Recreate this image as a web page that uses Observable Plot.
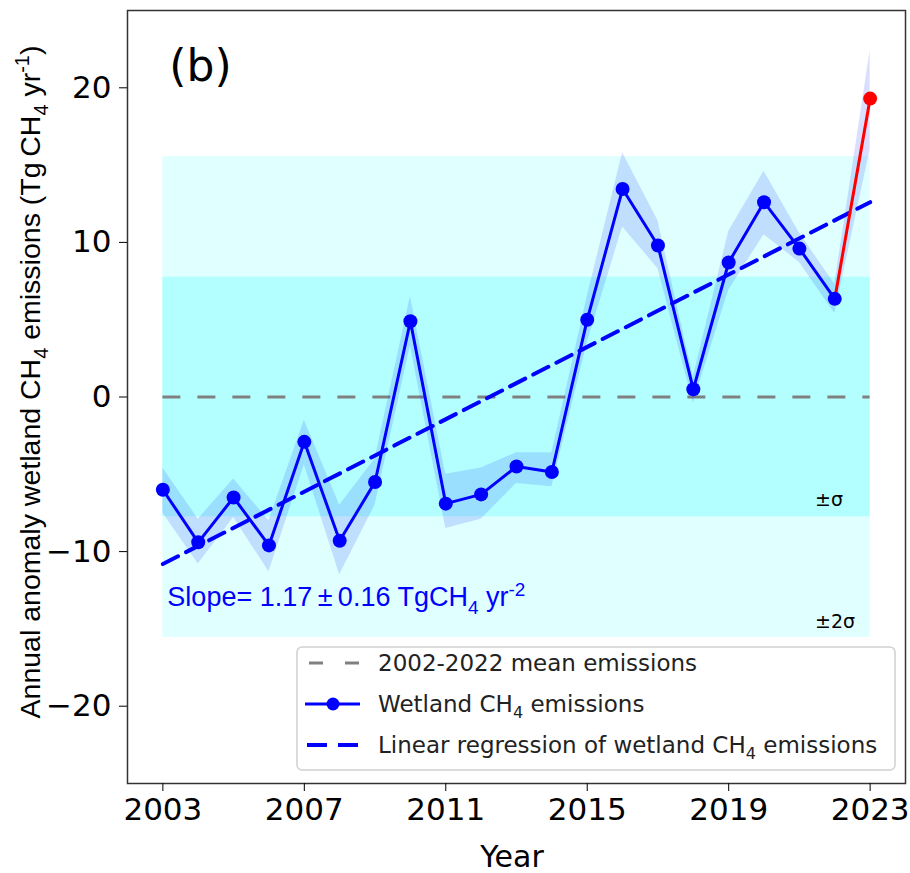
<!DOCTYPE html>
<html><head><meta charset="utf-8">
<script src="https://cdn.jsdelivr.net/npm/d3@7"></script>
<script src="https://cdn.jsdelivr.net/npm/@observablehq/plot@0.6"></script>
<style>
body{margin:0;background:#fff}
#chart svg{display:block}
</style>
</head><body><div id="chart"></div>
<script>
// ---- data ----
const years     = [2003,2004,2005,2006,2007,2008,2009,2010,2011,2012,2013,2014,2015,2016,2017,2018,2019,2020,2021,2022,2023];
const emissions = [-6.0,-9.4,-6.5,-9.6,-2.9,-9.3,-5.5,4.9,-6.9,-6.3,-4.5,-4.85,5.0,13.45,9.8,0.5,8.7,12.6,9.6,6.35,19.3];
const lower     = [-7.5,-10.8,-7.8,-11.3,-4.4,-11.5,-7.0,3.3,-8.5,-7.9,-5.6,-5.8,3.5,11.0,8.3,-0.4,6.9,10.5,8.7,5.4,16.0];
const upper     = [-4.6,-7.9,-5.3,-8.0,-1.5,-7.0,-4.0,6.5,-5.0,-4.6,-3.6,-3.6,6.5,15.8,11.4,1.3,10.7,14.6,10.6,7.3,22.4];
const regYears  = [2003, 2023];
const regValues = [-10.8, 12.6];
const meanValue = 0;
const sigma     = 7.75;
const twoSigma  = 15.55;
const bandYears = [2003, 2023];
const xTicks    = [2003, 2007, 2011, 2015, 2019, 2023];
const yTicks    = [-20, -10, 0, 10, 20];
const lastYear  = 2023;

const data = years.map((year, i) => ({year, value: emissions[i], lo: lower[i], hi: upper[i]}));
const hist = data.filter(d => d.year < lastYear);
const latest = data.filter(d => d.year >= lastYear - 1);
const lastPoint = data.filter(d => d.year === lastYear);
const reg = regYears.map((year, i) => ({year, value: regValues[i]}));
const outerBand = [{x1: bandYears[0], x2: bandYears[1], y1: -twoSigma, y2: twoSigma}];
const innerBand = [{x1: bandYears[0], x2: bandYears[1], y1: -sigma, y2: sigma}];

const DV = "'DejaVu Sans', sans-serif";
const AR = "'Liberation Sans', Arial, sans-serif";

const plot = Plot.plot({
  width: 910, height: 873,
  marginLeft: 127, marginRight: 5, marginTop: 10, marginBottom: 90,
  x: {domain: [2002, 2024]},
  y: {domain: [-25, 25]},
  style: {fontFamily: DV, background: "#fff", color: "#000", overflow: "visible"},
  marks: [
    Plot.rect(outerBand, {x1: "x1", x2: "x2", y1: "y1", y2: "y2", fill: "#e0ffff"}),
    Plot.rect(innerBand, {x1: "x1", x2: "x2", y1: "y1", y2: "y2", fill: "#b3ffff"}),
    Plot.ruleY([meanValue], {x1: bandYears[0], x2: bandYears[1], stroke: "#808080", strokeWidth: 3, strokeDasharray: "18,17"}),
    Plot.areaY(data, {x: "year", y1: "lo", y2: "hi", fill: "#3050ff", fillOpacity: 0.18}),
    Plot.line(reg, {x: "year", y: "value", stroke: "#0000ff", strokeWidth: 4, strokeDasharray: "17,9"}),
    Plot.line(hist, {x: "year", y: "value", stroke: "#0000ff", strokeWidth: 3}),
    Plot.line(latest, {x: "year", y: "value", stroke: "#ff0000", strokeWidth: 3}),
    Plot.dot(hist, {x: "year", y: "value", r: 7, fill: "#0000ff"}),
    Plot.dot(lastPoint, {x: "year", y: "value", r: 7, fill: "#ff0000"}),
    Plot.frame({stroke: "#333", strokeWidth: 1.5}),
    Plot.axisX({ticks: xTicks, tickFormat: d => String(d), tickSize: 8, tickPadding: 6, fontSize: 31, label: null}),
    Plot.axisY({ticks: yTicks, tickSize: 8, tickPadding: 8, fontSize: 31, label: null})
  ]
});
document.getElementById("chart").appendChild(plot);

const svg = d3.select(plot);
const sx = plot.scale("x").apply, sy = plot.scale("y").apply;

function rich(sel, parts, size) {
  let shift = 0;
  for (const [t, kind] of parts) {
    const target = kind === "sub" ? size * 0.28 : kind === "sup" ? -size * 0.38 : 0;
    sel.append("tspan").attr("dy", target - shift).attr("font-size", kind ? size * 0.7 : size).text(t);
    shift = target;
  }
}

const ann = svg.append("g").attr("text-anchor", "start");
// panel label
ann.append("text").attr("x", sx(2003) + 7).attr("y", 81)
  .attr("font-family", DV).attr("font-size", 44).attr("fill", "#000").text("(b)");
// slope
const st = ann.append("text").attr("x", sx(2003) + 5).attr("y", 606)
  .attr("font-family", AR).attr("fill", "#0000ff");
rich(st, [["Slope= 1.17\u2009\u00b1\u20090.16 TgCH"], ["4", "sub"], [" yr"], ["-2", "sup"]], 27);
// sigma labels
ann.append("text").attr("x", 815).attr("y", sy(-sigma) - 10).attr("font-family", DV)
  .attr("font-size", 19).attr("fill", "#000").text("\u00b1\u03c3");
ann.append("text").attr("x", 815).attr("y", sy(-twoSigma) - 9).attr("font-family", DV)
  .attr("font-size", 19).attr("fill", "#000").text("\u00b12\u03c3");

// axis titles
const yt = svg.append("text").attr("transform", "translate(40,382) rotate(-90)")
  .attr("text-anchor", "middle").attr("font-family", AR).attr("fill", "#000");
rich(yt, [["Annual anomaly wetland CH"], ["4", "sub"], [" emissions (Tg\u2009CH"], ["4", "sub"], [" yr"], ["-1", "sup"], [")"]], 28.5);
svg.append("text").attr("x", 512).attr("y", 867).attr("text-anchor", "middle")
  .attr("font-family", DV).attr("font-size", 30).attr("fill", "#000").text("Year");

// legend
const lg = svg.append("g").attr("font-family", DV).attr("font-size", 23).attr("fill", "#222").attr("text-anchor", "start");
lg.append("rect").attr("x", 297).attr("y", 647).attr("width", 598).attr("height", 123).attr("rx", 5)
  .attr("fill", "#fff").attr("fill-opacity", 0.85).attr("stroke", "#d0d0d0").attr("stroke-width", 1.5);
const rows = [663, 704, 745];
lg.append("line").attr("x1", 309).attr("x2", 360).attr("y1", rows[0]).attr("y2", rows[0])
  .attr("stroke", "#808080").attr("stroke-width", 3).attr("stroke-dasharray", "14,22");
lg.append("line").attr("x1", 305).attr("x2", 360).attr("y1", rows[1]).attr("y2", rows[1])
  .attr("stroke", "#0000ff").attr("stroke-width", 3);
lg.append("circle").attr("cx", 333).attr("cy", rows[1]).attr("r", 6.5).attr("fill", "#0000ff");
lg.append("line").attr("x1", 307).attr("x2", 360).attr("y1", rows[2]).attr("y2", rows[2])
  .attr("stroke", "#0000ff").attr("stroke-width", 4).attr("stroke-dasharray", "20,11");
lg.append("text").attr("x", 378).attr("y", rows[0] + 8).attr("textLength", 319).text("2002-2022 mean emissions");
rich(lg.append("text").attr("x", 378).attr("y", rows[1] + 8), [["Wetland CH"], ["4", "sub"], [" emissions"]], 23);
rich(lg.append("text").attr("x", 378).attr("y", rows[2] + 8), [["Linear regression of wetland CH"], ["4", "sub"], [" emissions"]], 23);
</script>
</body></html>
